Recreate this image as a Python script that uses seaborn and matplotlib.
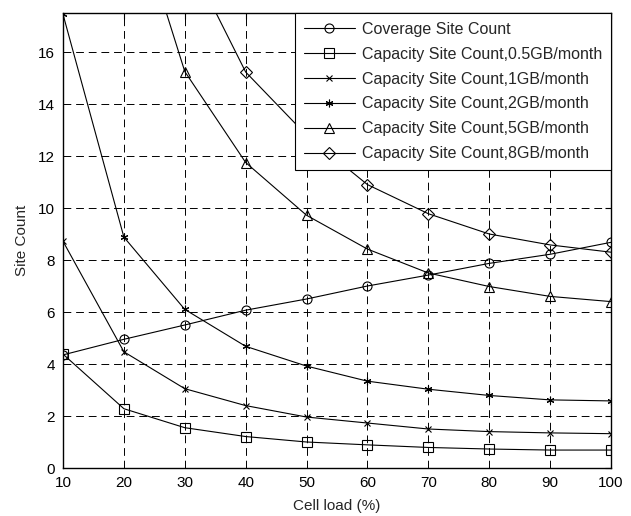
import numpy as np
import pandas as pd
import matplotlib
matplotlib.use("Agg")
import matplotlib.pyplot as plt
import seaborn as sns

# ---- data ----
cell_load = [10, 20, 30, 40, 50, 60, 70, 80, 90, 100]
coverage = [4.35, 4.95, 5.5, 6.07, 6.5, 7.0, 7.42, 7.87, 8.22, 8.68]
cap_05gb = [4.38, 2.28, 1.55, 1.21, 1.0, 0.89, 0.79, 0.73, 0.69, 0.69]
cap_1gb = [8.72, 4.47, 3.05, 2.4, 1.96, 1.73, 1.5, 1.4, 1.35, 1.32]
cap_2gb = [17.45, 8.88, 6.1, 4.68, 3.92, 3.34, 3.03, 2.79, 2.62, 2.58]
cap_5gb = [None, 22.7, 15.25, 11.75, 9.72, 8.42, 7.5, 6.98, 6.6, 6.4]
cap_8gb = [None, None, 19.9, 15.23, 12.8, 10.9, 9.78, 9.0, 8.58, 8.3]

labels = ["Coverage Site Count",
          "Capacity Site Count,0.5GB/month",
          "Capacity Site Count,1GB/month",
          "Capacity Site Count,2GB/month",
          "Capacity Site Count,5GB/month",
          "Capacity Site Count,8GB/month"]
series = [coverage, cap_05gb, cap_1gb, cap_2gb, cap_5gb, cap_8gb]
x_ticks = [10, 20, 30, 40, 50, 60, 70, 80, 90, 100]
y_ticks = [0, 2, 4, 6, 8, 10, 12, 14, 16]

markers = ["o", "s", "x", (6, 2, 0), "^", "D"]
msizes = [6.5, 7, 4, 5.5, 7.5, 6]

sns.set_style("white")
plt.rcParams["font.family"] = ["Liberation Sans", "DejaVu Sans"]

fig = plt.figure(figsize=(6.31, 5.16), dpi=100)
ax = fig.add_axes([63 / 631, (516 - 468) / 516, (611 - 63) / 631, (468 - 13) / 516])

for lab, vals, m, ms in zip(labels, series, markers, msizes):
    df = pd.DataFrame({"load": cell_load, "count": vals}).dropna()
    sns.lineplot(data=df, x="load", y="count", ax=ax, color="black",
                 linewidth=0.8, marker=m, markersize=ms,
                 markerfacecolor="none", markeredgecolor="black",
                 markeredgewidth=0.8, label=lab, errorbar=None, sort=True)

ax.set_xlim(10, 100)
ax.set_ylim(0, 17.5)
ax.set_xticks(x_ticks)
ax.set_yticks(y_ticks)
ax.grid(True, color="black", linestyle=(0, (8, 5)), linewidth=0.7)
ax.set_axisbelow(True)
for s in ax.spines.values():
    s.set_color("black")
    s.set_linewidth(1.0)
ax.tick_params(direction="in", length=4, labelsize=11, colors="black",
               top=True, right=True, pad=6)
ax.set_xlabel("Cell load (%)", fontsize=11, labelpad=6)
ax.set_ylabel("Site Count", fontsize=11, labelpad=6)

leg = ax.legend(loc="upper right", fontsize=11.5, frameon=True, fancybox=False,
                edgecolor="black", framealpha=1, borderaxespad=0,
                handlelength=3.2, labelspacing=0.62, borderpad=0.55,
                handletextpad=0.45)
leg.get_frame().set_linewidth(0.8)

fig.savefig("out.png", dpi=100)
